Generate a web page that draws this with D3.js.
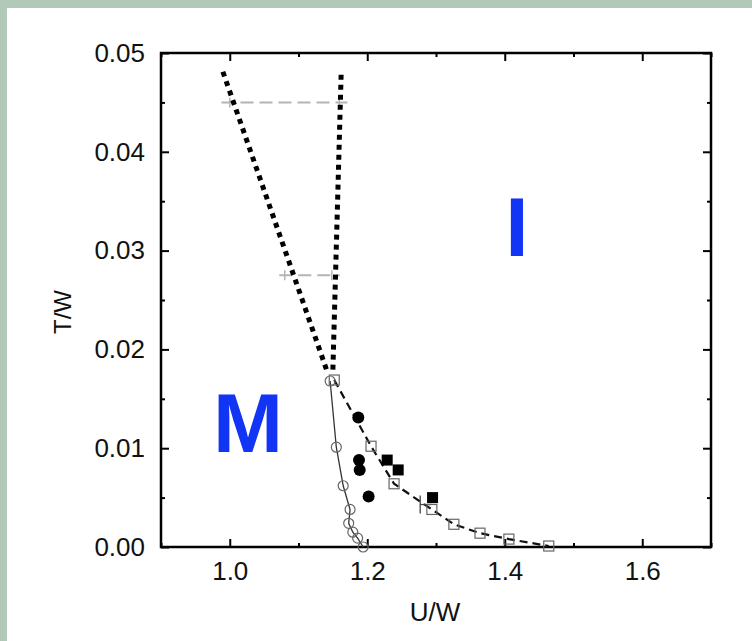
<!DOCTYPE html>
<html><head><meta charset="utf-8">
<script src="https://cdn.jsdelivr.net/npm/d3@7/dist/d3.min.js"></script>
<style>body{margin:0;background:#b2c9b9;} svg{display:block}</style>
</head><body><svg id="c" width="752" height="641"></svg>
<script>
// ---- data ----
const xTicksMajor = [1.0, 1.2, 1.4, 1.6];
const xTicksMinor = [0.9, 1.1, 1.3, 1.5, 1.7];
const yTicksMajor = [0.00, 0.01, 0.02, 0.03, 0.04, 0.05];
const yTicksMinor = [0.005, 0.015, 0.025, 0.035, 0.045];

// M boundary (open circles, solid line)
const mU = [1.146, 1.155, 1.165, 1.175, 1.173, 1.179, 1.186, 1.194];
const mT = [0.0168, 0.0101, 0.0062, 0.0038, 0.0024, 0.0015, 0.0009, 0.0000];
// I boundary (open squares, dashed line)
const iU = [1.152, 1.2055, 1.239, 1.294, 1.326, 1.364, 1.406, 1.464];
const iT = [0.0169, 0.0102, 0.0064, 0.0038, 0.0023, 0.0014, 0.0008, 0.0001];
// filled circles
const fcU = [1.187, 1.188, 1.189, 1.202];
const fcT = [0.0131, 0.0088, 0.0078, 0.0051];
// filled squares
const fsU = [1.229, 1.245, 1.295];
const fsT = [0.0088, 0.0078, 0.0050];
// dotted extrapolation lines
const dotLeftU = [0.990, 1.141];
const dotLeftT = [0.0481, 0.0179];
const dotRightU = [1.162, 1.150];
const dotRightT = [0.0478, 0.0179];
// gray dashed horizontal error bars: [Ulow, Uhigh, T, Ucentre]
const grayBarLo = [0.988, 1.072];
const grayBarHi = [1.171, 1.160];
const grayBarT = [0.0450, 0.0275];
const grayBarC = [1.000, 1.080];
// small black error bar
const errLo = [1.277];
const errHi = [1.294];
const errT = [0.0043];

// ---- layout ----
const svg = d3.select('#c');
svg.append('rect').attr('x', 7).attr('y', 8).attr('width', 745).attr('height', 633).attr('fill', '#fff');

const L = 161, R = 711, T = 53, B = 547;
const x = d3.scaleLinear().domain([0.9, 1.7]).range([L, R]);
const y = d3.scaleLinear().domain([0, 0.05]).range([B, T]);
const font = '"Liberation Sans", Arial, Helvetica, sans-serif';

// axes (ticks inward)
function addAxis(axisGen, tx, ty, size, vals, labels) {
  const g = svg.append('g').attr('transform', `translate(${tx},${ty})`)
    .call(axisGen.tickValues(vals).tickSizeInner(-size).tickSizeOuter(0).tickPadding(10)
      .tickFormat(labels));
  g.select('.domain').remove();
  g.selectAll('.tick line').attr('stroke', '#000').attr('stroke-width', 2);
  g.selectAll('.tick text').attr('font-family', font).attr('font-size', 26).attr('fill', '#111');
  return g;
}
const fx = d3.format('.1f'), fy = d3.format('.2f');
addAxis(d3.axisBottom(x), 0, B, 8, xTicksMajor, fx).selectAll('.tick text').attr('dy', '0.9em');
addAxis(d3.axisBottom(x), 0, B, 4, xTicksMinor, () => '');
addAxis(d3.axisTop(x), 0, T, 8, xTicksMajor, () => '');
addAxis(d3.axisTop(x), 0, T, 4, xTicksMinor, () => '');
addAxis(d3.axisLeft(y), L, 0, 8, yTicksMajor, fy).selectAll('.tick text').attr('dx', '-6');
addAxis(d3.axisLeft(y), L, 0, 4, yTicksMinor, () => '');
addAxis(d3.axisRight(y), R, 0, 8, yTicksMajor, () => '');
addAxis(d3.axisRight(y), R, 0, 4, yTicksMinor, () => '');

svg.append('rect').attr('x', L).attr('y', T).attr('width', R - L).attr('height', B - T)
  .attr('fill', 'none').attr('stroke', '#000').attr('stroke-width', 2.5);

// axis titles
svg.append('text').attr('x', (L + R) / 2 - 1).attr('y', 621).attr('text-anchor', 'middle')
  .attr('font-family', font).attr('font-size', 26).attr('fill', '#111').text('U/W');
svg.append('text').attr('transform', 'translate(71,312) rotate(-90)').attr('text-anchor', 'middle')
  .attr('font-family', font).attr('font-size', 24).attr('fill', '#111').text('T/W');

const line = d3.line();
const pts = (us, ts) => us.map((u, i) => [x(u), y(ts[i])]);

// gray dashed horizontal bars
grayBarT.forEach((t, i) => {
  svg.append('line').attr('x1', x(grayBarLo[i])).attr('x2', x(grayBarHi[i]))
    .attr('y1', y(t)).attr('y2', y(t)).attr('stroke', '#b4b4b4').attr('stroke-width', 2)
    .attr('stroke-dasharray', '13,6');
  svg.append('line').attr('x1', x(grayBarC[i])).attr('x2', x(grayBarC[i]))
    .attr('y1', y(t) - 5).attr('y2', y(t) + 5).attr('stroke', '#b4b4b4').attr('stroke-width', 1.5);
  svg.append('line').attr('x1', x(grayBarHi[i]) - 8).attr('x2', x(grayBarHi[i]) - 8)
    .attr('y1', y(t) - 5).attr('y2', y(t) + 5).attr('stroke', '#b4b4b4').attr('stroke-width', 1.5);
});

// dotted thick lines
[[dotLeftU, dotLeftT], [dotRightU, dotRightT]].forEach(([us, ts]) => {
  svg.append('path').attr('d', line(pts(us, ts))).attr('fill', 'none')
    .attr('stroke', '#000').attr('stroke-width', 5).attr('stroke-dasharray', '5,5');
});

// M boundary solid line
svg.append('path').attr('d', line(pts(mU, mT))).attr('fill', 'none')
  .attr('stroke', '#333').attr('stroke-width', 1.3);
// I boundary dashed line
svg.append('path').attr('d', line(pts(iU, iT))).attr('fill', 'none')
  .attr('stroke', '#111').attr('stroke-width', 2.2).attr('stroke-dasharray', '8,5');

// small error bar
errT.forEach((t, i) => {
  svg.append('line').attr('x1', x(errLo[i])).attr('x2', x(errHi[i])).attr('y1', y(t)).attr('y2', y(t))
    .attr('stroke', '#444').attr('stroke-width', 1.3);
  svg.append('line').attr('x1', x(errLo[i])).attr('x2', x(errLo[i])).attr('y1', y(t) - 9).attr('y2', y(t) + 9)
    .attr('stroke', '#444').attr('stroke-width', 1.3);
});

// open circles
svg.selectAll('.oc').data(pts(mU, mT)).enter().append('circle')
  .attr('cx', d => d[0]).attr('cy', d => d[1]).attr('r', 5)
  .attr('fill', 'none').attr('stroke', '#666').attr('stroke-width', 1.2);
// open squares
svg.selectAll('.os').data(pts(iU, iT)).enter().append('rect')
  .attr('x', d => d[0] - 5).attr('y', d => d[1] - 5).attr('width', 10).attr('height', 10)
  .attr('fill', 'none').attr('stroke', '#666').attr('stroke-width', 1.2);
// filled circles
svg.selectAll('.fc').data(pts(fcU, fcT)).enter().append('circle')
  .attr('cx', d => d[0]).attr('cy', d => d[1]).attr('r', 6).attr('fill', '#000');
// filled squares
svg.selectAll('.fs').data(pts(fsU, fsT)).enter().append('rect')
  .attr('x', d => d[0] - 5.5).attr('y', d => d[1] - 5.5).attr('width', 11).attr('height', 11).attr('fill', '#000');

// region labels
svg.append('text').attr('x', 248).attr('y', 452).attr('text-anchor', 'middle')
  .attr('font-family', font).attr('font-weight', 'bold').attr('font-size', 84)
  .attr('fill', '#1234f5').text('M');
svg.append('text').attr('x', 517).attr('y', 256).attr('text-anchor', 'middle')
  .attr('font-family', font).attr('font-weight', 'bold').attr('font-size', 84)
  .attr('fill', '#1234f5').text('I');
</script></body></html>
